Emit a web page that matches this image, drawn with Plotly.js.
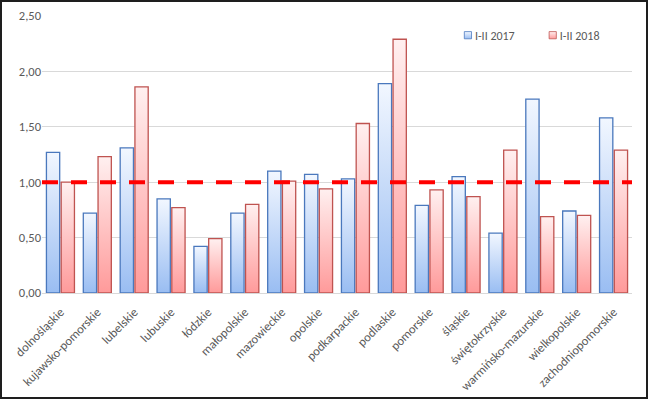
<!DOCTYPE html>
<html>
<head>
<meta charset="utf-8">
<script src="https://cdn.plot.ly/plotly-3.0.1.min.js"></script>
<style>
html,body{margin:0;padding:0;background:#fff;}
#chart{width:648px;height:399px;box-sizing:border-box;border:2px solid #1e1e1e;}
</style>
</head>
<body>
<div id="chart"></div>
<script>
const categories = ["dolnośląskie","kujawsko-pomorskie","lubelskie","lubuskie","łódzkie","małopolskie","mazowieckie","opolskie","podkarpackie","podlaskie","pomorskie","śląskie","świętokrzyskie","warmińsko-mazurskie","wielkopolskie","zachodniopomorskie"];
const values2017 = [1.27,0.72,1.31,0.85,0.42,0.72,1.10,1.07,1.03,1.89,0.79,1.05,0.54,1.75,0.74,1.58];
const values2018 = [1.00,1.23,1.86,0.77,0.49,0.80,1.01,0.94,1.53,2.29,0.93,0.87,1.29,0.69,0.70,1.29];
const seriesNames = ["I-II 2017","I-II 2018"];
const threshold = [1.00];
const yTicks = [0,0.5,1,1.5,2,2.5];

const fontFam = "Carlito, Lato, 'Open Sans', sans-serif";
const traces = [
  {type:'bar', name:seriesNames[0], x:categories, y:values2017,
   marker:{color:'#c6dbf7', line:{color:'#4a78bd', width:1.3}}},
  {type:'bar', name:seriesNames[1], x:categories, y:values2018,
   marker:{color:'#ffc8c8', line:{color:'#bf5350', width:1.3}}}
];
const layout = {
  width:644, height:395,
  margin:{l:40, r:14, t:14, b:104},
  paper_bgcolor:'#fff', plot_bgcolor:'#fff',
  separators:', ',
  bargap:0.2, bargroupgap:0.1,
  font:{family:fontFam, color:'#595959', size:12},
  showlegend:true,
  legend:{orientation:'h', x:0.688, y:0.983, xanchor:'left', yanchor:'top',
          font:{size:12, color:'#595959'}, itemwidth:30, bgcolor:'rgba(0,0,0,0)'},
  xaxis:{type:'category', tickangle:-45, showgrid:false, showline:true, linecolor:'#d9d9d9', linewidth:1,
         ticks:'', ticklabelstandoff:6, automargin:false, tickfont:{size:12.5, color:'#595959'}},
  yaxis:{range:[0,2.5], tickvals:yTicks, tickformat:'.2f', showgrid:true, gridcolor:'#d9d9d9',
         zeroline:false, showline:false, ticks:'', automargin:false, tickfont:{size:12.5, color:'#595959'}},
  shapes:[{type:'line', xref:'paper', yref:'y', x0:0, x1:1, y0:threshold[0], y1:threshold[0],
           line:{color:'#ff0000', width:4, dash:'16px,13px'}, layer:'above'}]
};
Plotly.newPlot('chart', traces, layout, {displayModeBar:false, staticPlot:true}).then(function(gd){
  const svg = gd.querySelector('svg.main-svg');
  const ns = 'http://www.w3.org/2000/svg';
  let defs = svg.querySelector('defs');
  if(!defs){defs = document.createElementNS(ns,'defs'); svg.insertBefore(defs, svg.firstChild);}
  function grad(id, top, bottom){
    const g = document.createElementNS(ns,'linearGradient');
    g.setAttribute('id',id); g.setAttribute('x1','0'); g.setAttribute('y1','0'); g.setAttribute('x2','0'); g.setAttribute('y2','1');
    const s1 = document.createElementNS(ns,'stop'); s1.setAttribute('offset','0'); s1.setAttribute('stop-color',top);
    const s2 = document.createElementNS(ns,'stop'); s2.setAttribute('offset','1'); s2.setAttribute('stop-color',bottom);
    g.appendChild(s1); g.appendChild(s2); defs.appendChild(g);
  }
  grad('gBlue','#f2f7ff','#99bdf2');
  grad('gRed','#fff0f0','#ff9a9a');
  const ids = ['gBlue','gRed'];
  gd.querySelectorAll('.barlayer .trace').forEach(function(t,i){
    t.querySelectorAll('path').forEach(function(p){ p.style.fill = 'url(#'+ids[i]+')'; });
  });
  gd.querySelectorAll('.legend .traces').forEach(function(t,i){
    t.querySelectorAll('.legendpoints path').forEach(function(p){
      p.style.fill = 'url(#'+ids[i]+')';
      const tr = p.getAttribute('transform') || '';
      p.setAttribute('transform', tr + ' scale(0.6)');
    });
    t.querySelectorAll('text.legendtext').forEach(function(tx){ tx.setAttribute('x', 27); });
  });
});
</script>
</body>
</html>
